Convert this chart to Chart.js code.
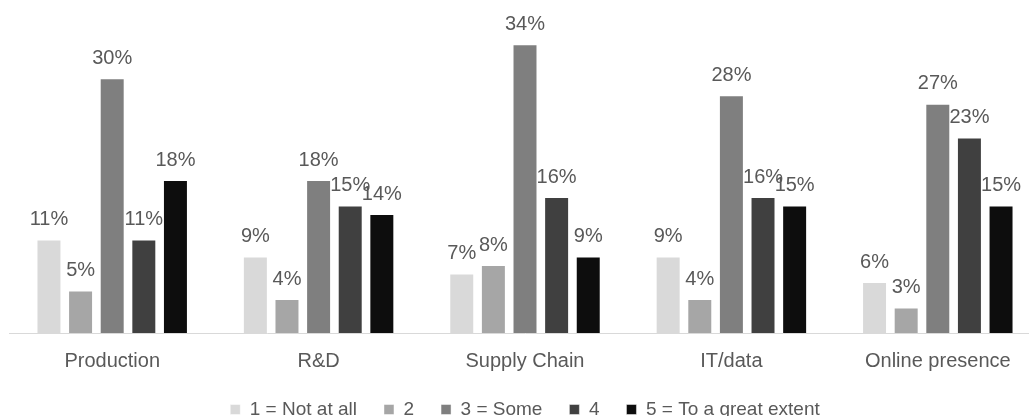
<!DOCTYPE html>
<html>
<head>
<meta charset="utf-8">
<script src="https://cdn.jsdelivr.net/npm/chart.js@4"></script>
<style>
html,body{margin:0;padding:0;background:#fff;overflow:hidden;width:1029px;height:416px;}
#wrap{position:absolute;left:0;top:0;width:1041px;height:429px;}
</style>
</head>
<body>
<div id="wrap"><canvas id="c" width="1041" height="429"></canvas></div>
<script>
const categories = ["Production", "R&D", "Supply Chain", "IT/data", "Online presence"];
const seriesNames = ["1 = Not at all", "2", "3 = Some", "4", "5 = To a great extent"];
const s1 = [11, 9, 7, 9, 6];
const s2 = [5, 4, 8, 4, 3];
const s3 = [30, 18, 34, 28, 27];
const s4 = [11, 15, 16, 16, 23];
const s5 = [18, 14, 9, 15, 15];
const colors = ["#d9d9d9", "#a6a6a6", "#7f7f7f", "#404040", "#0d0d0d"];
const seriesValues = [s1, s2, s3, s4, s5];

const textColor = "#595959";
const fontFamily = "'Liberation Sans', Arial, sans-serif";

const labelPlugin = {
  id: 'barLabels',
  afterDatasetsDraw(chart) {
    const ctx = chart.ctx;
    ctx.save();
    ctx.fillStyle = textColor;
    ctx.font = "20px " + fontFamily;
    ctx.textAlign = "center";
    ctx.textBaseline = "alphabetic";
    chart.data.datasets.forEach((ds, i) => {
      const meta = chart.getDatasetMeta(i);
      meta.data.forEach((bar, j) => {
        ctx.fillText(ds.data[j] + "%", bar.x, bar.y - 14.5);
      });
    });
    ctx.restore();
  }
};

new Chart(document.getElementById('c'), {
  type: 'bar',
  data: {
    labels: categories,
    datasets: seriesValues.map((vals, i) => ({
      label: seriesNames[i],
      data: vals,
      backgroundColor: colors[i],
      borderColor: "rgba(255,255,255,0.45)",
      borderWidth: 1,
      categoryPercentage: 0.766,
      barPercentage: 0.79
    }))
  },
  options: {
    responsive: false,
    animation: false,
    devicePixelRatio: 1,
    layout: { padding: { left: 9, right: 0, top: 0, bottom: 0 } },
    plugins: {
      legend: {
        position: 'bottom',
        labels: {
          boxWidth: 10,
          boxHeight: 10,
          padding: 27,
          color: textColor,
          font: { size: 19, family: fontFamily }
        }
      },
      tooltip: { enabled: false }
    },
    scales: {
      x: {
        grid: { display: true, color: "rgba(0,0,0,0)", drawOnChartArea: false, drawTicks: true, tickLength: 16 },
        border: { display: true, color: "#d9d9d9", width: 1 },
        ticks: { color: textColor, font: { size: 20, family: fontFamily }, padding: 0 }
      },
      y: {
        display: false,
        min: 0,
        max: 39.2,
        grid: { display: false }
      }
    }
  },
  plugins: [labelPlugin]
});
</script>
</body>
</html>
